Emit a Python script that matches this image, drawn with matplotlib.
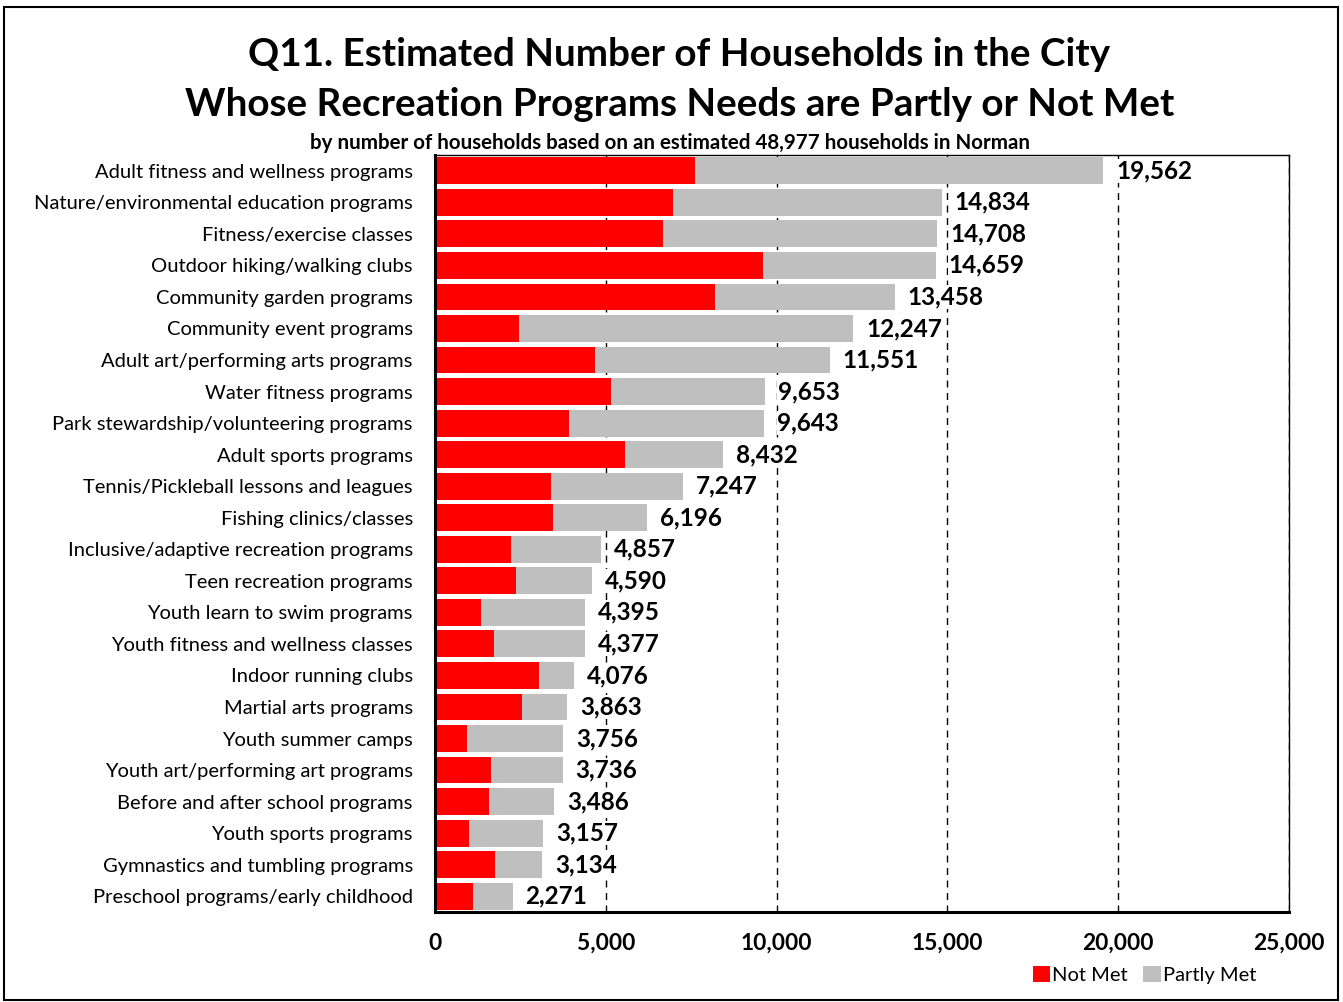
import numpy as np
import matplotlib.pyplot as plt
from matplotlib.patches import Rectangle

plt.rcParams['font.family'] = ['Lato', 'DejaVu Sans']

categories = [
    "Adult fitness and wellness programs",
    "Nature/environmental education programs",
    "Fitness/exercise classes",
    "Outdoor hiking/walking clubs",
    "Community garden programs",
    "Community event programs",
    "Adult art/performing arts programs",
    "Water fitness programs",
    "Park stewardship/volunteering programs",
    "Adult sports programs",
    "Tennis/Pickleball lessons and leagues",
    "Fishing clinics/classes",
    "Inclusive/adaptive recreation programs",
    "Teen recreation programs",
    "Youth learn to swim programs",
    "Youth fitness and wellness classes",
    "Indoor running clubs",
    "Martial arts programs",
    "Youth summer camps",
    "Youth art/performing art programs",
    "Before and after school programs",
    "Youth sports programs",
    "Gymnastics and tumbling programs",
    "Preschool programs/early childhood",
]
totals = [19562, 14834, 14708, 14659, 13458, 12247, 11551, 9653, 9643, 8432,
          7247, 6196, 4857, 4590, 4395, 4377, 4076, 3863, 3756, 3736, 3486,
          3157, 3134, 2271]
not_met = [7602, 6959, 6667, 9611, 8187, 2456, 4678, 5146, 3918, 5556,
           3392, 3450, 2222, 2368, 1345, 1725, 3041, 2544, 936, 1637, 1579,
           994, 1754, 1111]
partly_met = [t - n for t, n in zip(totals, not_met)]

fig = plt.figure(figsize=(13.43, 10.02), dpi=100)
ax = fig.add_axes([435 / 1343, 1 - 912 / 1002, 854 / 1343, 757 / 1002])

y = np.arange(len(categories))
ax.barh(y, not_met, height=0.85, color="#ff0000", label="Not Met", zorder=2)
ax.barh(y, partly_met, left=not_met, height=0.85, color="#bfbfbf",
        label="Partly Met", zorder=2)

for yi, t in zip(y, totals):
    ax.text(t + 380, yi, f"{t:,}", va="center", ha="left", fontsize=17.5,
            fontweight="bold", zorder=4,
            bbox=dict(facecolor="white", edgecolor="none", pad=0.5))

ax.set_xlim(0, 25000)
ax.set_ylim(len(categories) - 0.5, -0.5)
ax.set_xticks(np.arange(0, 25001, 5000))
ax.set_xticklabels([f"{v:,}" for v in range(0, 25001, 5000)],
                   fontsize=16.4, fontweight="bold")
ax.set_yticks(y)
ax.set_yticklabels(categories, fontsize=14.5)
ax.tick_params(axis="y", length=0, pad=16)
ax.tick_params(axis="x", length=0, pad=15)
ax.xaxis.grid(True, linestyle=(0, (5, 4)), color="black", linewidth=1, zorder=1)
ax.set_axisbelow(True)
for s in ["top", "right"]:
    ax.spines[s].set_linewidth(1)
for s in ["left", "bottom"]:
    ax.spines[s].set_linewidth(2.2)

fig.text(0.506, 1 - 54 / 1002, "Q11. Estimated Number of Households in the City",
         ha="center", va="center", fontsize=27.8, fontweight="bold")
fig.text(0.506, 1 - 105 / 1002,
         "Whose Recreation Programs Needs are Partly or Not Met",
         ha="center", va="center", fontsize=27.8, fontweight="bold")
fig.text(0.499, 1 - 143 / 1002,
         "by number of households based on an estimated 48,977 households in Norman",
         ha="center", va="center", fontsize=14.8, fontweight="bold")

fig.legend(loc="center right", bbox_to_anchor=(1264 / 1343, 1 - 975 / 1002),
           ncol=2, frameon=False, fontsize=14.5, handlelength=0.85,
           handleheight=0.85, handletextpad=0.1, columnspacing=0.8,
           borderaxespad=0)

fig.patches.append(Rectangle((4 / 1343, 2 / 1002), 1334 / 1343, 993 / 1002,
                             transform=fig.transFigure, fill=False,
                             edgecolor="black", linewidth=1.5))

fig.savefig("out.png", dpi=100)
